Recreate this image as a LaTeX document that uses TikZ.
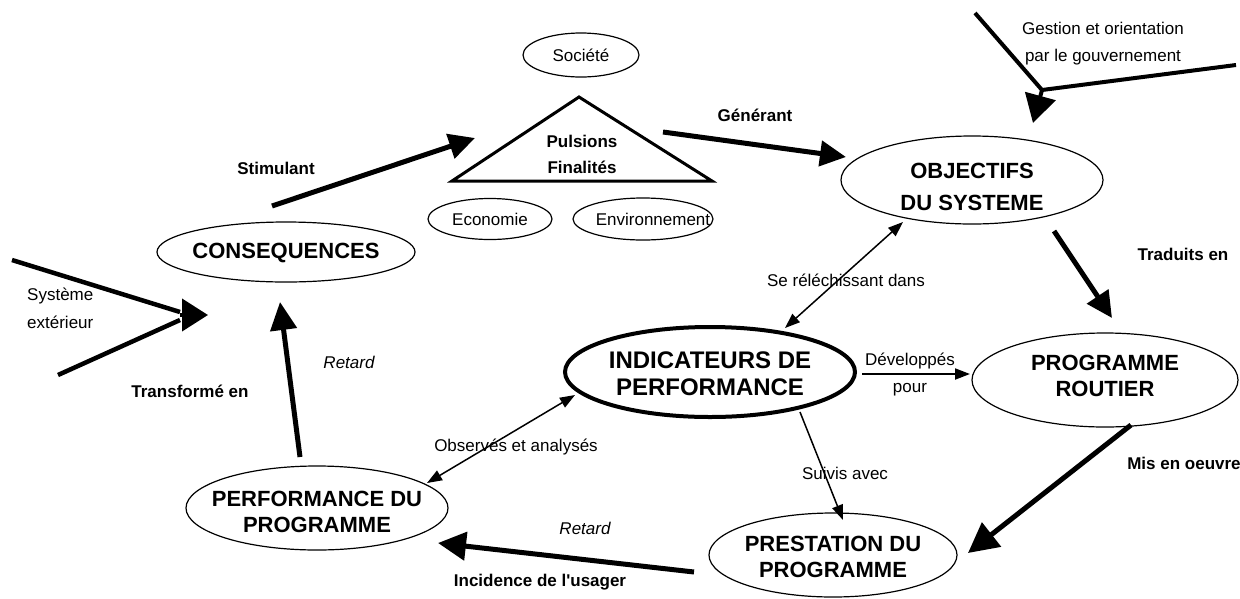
\documentclass[tikz,border=0pt]{standalone}
\usepackage{fontspec}
\setmainfont{Liberation Sans}
\usetikzlibrary{arrows.meta,shapes.geometric,calc}
\tikzset{
  ell/.style={draw, ellipse, inner sep=0pt, line width=1.2pt},
  small/.style={font=\fontsize{17}{20}\selectfont, inner sep=0pt},
  bsmall/.style={font=\fontsize{17}{20}\selectfont\bfseries, inner sep=0pt},
  ismall/.style={font=\fontsize{17}{20}\selectfont\itshape, inner sep=0pt},
  big/.style={font=\fontsize{22}{25.5}\selectfont\bfseries, align=center, inner sep=0pt},
  thickarrow/.style={line width=5pt, -{Triangle[length=26pt,width=25pt]}},
  thinarrow/.style={line width=1.5pt, -{Triangle[length=15pt,width=11pt]}},
  thinboth/.style={line width=1.5pt, {Triangle[length=15pt,width=11pt]}-{Triangle[length=15pt,width=11pt]}},
}
\begin{document}
\begin{tikzpicture}[x=1pt,y=-1pt]
\useasboundingbox (0,0) rectangle (1240,598);
\fill[white] (0,0) rectangle (1240,598);

% ellipses
\node[ell, minimum width=116pt, minimum height=44pt] (soc) at (581,55) {};
\node[small] (socT) at (581,55) {Société};
\node[ell, minimum width=124pt, minimum height=41pt] (eco) at (490,219) {};
\node[small] (ecoT) at (490,219) {Economie};
\node[ell, minimum width=140pt, minimum height=42pt] (env) at (643,219) {};
\node[small] (envT) at (653,219) {Environnement};

\node[ell, minimum width=258pt, minimum height=60pt] (cons) at (286,252) {};
\node[big] (consT) at (286,253) {CONSEQUENCES};

\node[ell, minimum width=262pt, minimum height=88pt] (obj) at (972,180) {};
\node[big, font=\fontsize{22}{32}\selectfont\bfseries] (objT) at (972,187) {OBJECTIFS\\DU SYSTEME};

\node[ell, line width=4pt, minimum width=290pt, minimum height=90pt] (ind) at (710,372) {};
\node[big, font=\fontsize{24}{27}\selectfont\bfseries] (indT) at (710,374) {INDICATEURS DE\\PERFORMANCE};

\node[ell, minimum width=266pt, minimum height=94pt] (prog) at (1105,380) {};
\node[big] (progT) at (1105,376) {PROGRAMME\\ROUTIER};

\node[ell, minimum width=248pt, minimum height=84pt] (prest) at (833,555) {};
\node[big] (prestT) at (833,557) {PRESTATION DU\\PROGRAMME};

\node[ell, minimum width=262pt, minimum height=84pt] (perf) at (317,508) {};
\node[big] (perfT) at (317,512) {PERFORMANCE DU\\PROGRAMME};

% triangle
\coordinate (triA) at (579,97);
\coordinate (triL) at (452,181);
\coordinate (triR) at (712,181);
\draw[line width=3pt, line join=miter] (triA) -- (triL) -- (triR) -- cycle;
\node[bsmall] (puls) at (582,141) {Pulsions};
\node[bsmall] (fin) at (582,167) {Finalités};

% labels
\node[bsmall] (lgen) at (755,115) {Générant};
\node[bsmall] (lstim) at (276,168) {Stimulant};
\node[small] (lgest1) at (1103,28) {Gestion et orientation};
\node[small] (lgest2) at (1103,57) {par le gouvernement};
\node[small, anchor=west] (lsys1) at (27,296) {Système};
\node[small, anchor=west] (lsys2) at (27,322) {extérieur};
\node[ismall] (lret1) at (349,362) {Retard};
\node[bsmall] (ltrans) at (190,391) {Transformé en};
\node[small] (lrefl) at (846,280) {Se réléchissant dans};
\node[small] (ldev1) at (910,361) {Développés};
\node[small] (ldev2) at (910,390) {pour};
\node[small] (lobs) at (516,447) {Observés et analysés};
\node[small] (lsuiv) at (845,473) {Suivis avec};
\node[ismall] (lret2) at (585,528) {Retard};
\node[bsmall] (linc) at (540,582) {Incidence de l\textquotesingle usager};
\node[bsmall] (lmis) at (1184,463) {Mis en oeuvre};
\node[bsmall] (ltrad) at (1183,254) {Traduits en};

% connector end points
\coordinate (stimS) at (272,206);
\coordinate (stimE) at (475,138);
\coordinate (genS) at (663,132);
\coordinate (genE) at (846,157);
\coordinate (gestA) at (975,13);
\coordinate (gestB) at (1236,65);
\coordinate (gestJ) at (1042,90);
\coordinate (gestE) at (1033,123);
\coordinate (tradS) at (1054,231);
\coordinate (tradE) at (1112,318);
\coordinate (misS) at (1131,425);
\coordinate (misE) at (968,553);
\coordinate (incS) at (694,572);
\coordinate (incE) at (438,543);
\coordinate (trS) at (300,457);
\coordinate (trE) at (280,302);
\coordinate (sysA) at (12,260);
\coordinate (sysB) at (58,375);
\coordinate (sysJ) at (180,315);
\coordinate (sysJa) at (180,312);
\coordinate (sysJb) at (180,320);
\coordinate (sysE) at (208,315);
\coordinate (reflA) at (903,222);
\coordinate (reflB) at (785,328);
\coordinate (devS) at (862,374);
\coordinate (devE) at (970,374);
\coordinate (suivS) at (800,412);
\coordinate (suivE) at (843,520);
\coordinate (obsA) at (575,395);
\coordinate (obsB) at (427,483);

% thick arrows
\draw[thickarrow] (stimS) -- (stimE);
\draw[thickarrow] (genS) -- (genE);
\draw[thickarrow] (tradS) -- (tradE);
\draw[thickarrow, -{Triangle[length=30pt,width=30pt]}] (misS) -- (misE);
\draw[thickarrow, -{Triangle[length=28pt,width=28pt]}] (incS) -- (incE);
\draw[thickarrow, -{Triangle[length=28pt,width=26pt]}] (trS) -- (trE);

% converging arrows
\draw[line width=4pt] (gestA) -- (gestJ);
\draw[line width=4pt] (gestB) -- (gestJ);
\draw[line width=4pt, -{Triangle[length=28pt,width=31pt]}] (gestJ) -- (gestE);
\draw[line width=4.5pt] (sysA) -- (sysJa);
\draw[line width=4.5pt] (sysB) -- (sysJb);
\draw[line width=4pt, -{Triangle[length=26pt,width=32pt]}] (sysJ) -- (sysE);

% thin arrows
\draw[thinboth] (reflA) -- (reflB);
\draw[thinboth] (obsA) -- (obsB);
\draw[thinarrow, line width=2pt] (devS) -- (devE);
\draw[thinarrow] (suivS) -- (suivE);
\end{tikzpicture}
\end{document}
